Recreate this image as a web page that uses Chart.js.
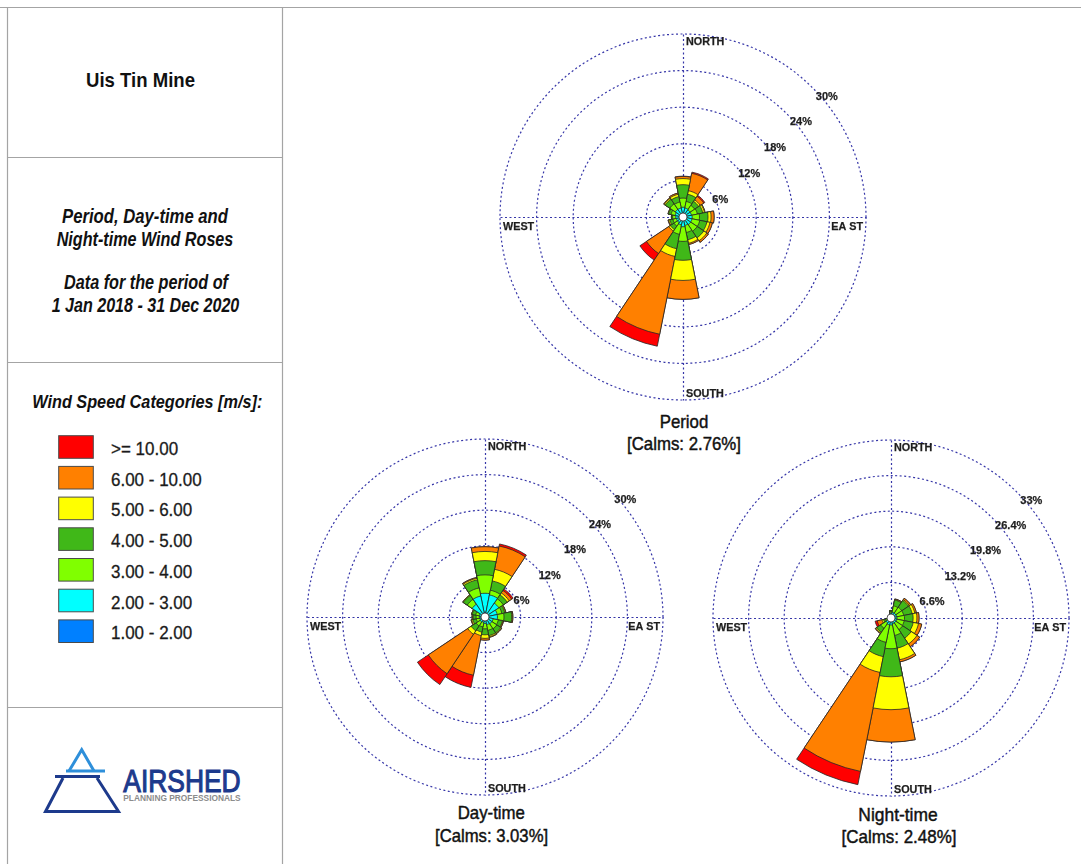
<!DOCTYPE html>
<html>
<head>
<meta charset="utf-8">
<title>Uis Tin Mine – Wind Roses</title>
<script src="https://cdn.jsdelivr.net/npm/chart.js@4.4.1/dist/chart.umd.min.js"></script>
<style>
  body { margin: 0; background: #ffffff; }
  #page { position: relative; width: 1081px; height: 864px; overflow: hidden; background: #ffffff; }
  #frame { position: absolute; left: 0; top: 0; }
  canvas { position: absolute; }
</style>
</head>
<body>
<div id="page">
  <svg id="frame" width="1081" height="864" xmlns="http://www.w3.org/2000/svg"></svg>
  <canvas id="periodRose"></canvas>
  <canvas id="dayRose"></canvas>
  <canvas id="nightRose"></canvas>
</div>
<script>
// ---- directions and wind speed classes (slowest first) ----
const directions = ['N','NNE','NE','ENE','E','ESE','SE','SSE','S','SSW','SW','WSW','W','WNW','NW','NNW'];
const speedClasses = ['1.00 - 2.00','2.00 - 3.00','3.00 - 4.00','4.00 - 5.00','5.00 - 6.00','6.00 - 10.00','>= 10.00'];
const speedColors  = ['#0080ff','#00ffff','#80ff00','#40b818','#ffff00','#ff8000','#ff0000'];

// ---- frequency (%) per direction, one array per speed class ----
// Period
const periodBlue   = [0.4,0.4,0.4,0.4,0.4,0.4,0.4,0.4,0.4,0.3,0.3,0.3,0.4,0.4,0.4,0.4];
const periodCyan   = [1.2,1.1,1.0,1.0,1.1,1.1,1.1,1.0,1.2,1.0,0.8,0.8,0.8,0.9,1.1,1.1];
const periodLime   = [1.5,1.1,0.9,1.0,1.2,1.3,1.3,1.2,2.4,1.6,0.7,0.6,0.5,0.7,1.1,1.0];
const periodGreen  = [2.2,1.2,0.8,0.9,1.4,1.2,1.3,1.2,3.1,2.4,0.7,0.5,0.2,0.4,0.9,0.9];
const periodYellow = [1.0,0.6,0.3,0.3,0.5,0.5,0.6,0.6,3.3,1.3,0.3,0.2,0.0,0.1,0.2,0.4];
const periodOrange = [0.35,2.9,0.7,0.1,0.5,0.4,0.3,0.2,3.1,13.0,4.4,0.1,0.0,0.0,0.1,0.2];
const periodRed    = [0.05,0.2,0.2,0.0,0.0,0.0,0.0,0.0,0.0,2.0,1.3,0.0,0.0,0.0,0.0,0.0];

// Day-time
const dayBlue   = [0.8,0.6,0.5,0.5,0.5,0.4,0.4,0.4,0.3,0.3,0.3,0.3,0.3,0.3,0.5,0.6];
const dayCyan   = [3.2,3.2,2.3,1.6,1.6,1.0,1.0,0.9,0.8,0.6,0.7,0.6,0.6,0.7,2.1,3.0];
const dayLime   = [3.1,0.8,0.9,0.8,1.1,0.9,1.0,1.0,0.9,0.8,0.8,0.6,0.6,0.6,1.0,1.4];
const dayGreen  = [2.4,1.6,0.8,0.5,1.3,0.7,0.8,0.9,1.0,0.9,1.0,0.6,0.5,0.6,0.8,1.4];
const dayYellow = [1.55,2.0,0.4,0.15,0.1,0.1,0.15,0.2,0.6,0.6,0.7,0.2,0.1,0.1,0.1,0.25];
const dayOrange = [0.8,4.0,0.5,0.05,0.1,0.1,0.05,0.1,0.3,6.8,8.0,0.1,0.1,0.0,0.0,0.15];
const dayRed    = [0.0,0.35,0.3,0.0,0.0,0.0,0.0,0.0,0.0,2.1,2.2,0.0,0.0,0.0,0.0,0.0];

// Night-time
const nightBlue   = [0.3,0.3,0.3,0.3,0.3,0.3,0.3,0.3,0.3,0.3,0.3,0.2,0.3,0.25,0.25,0.3];
const nightCyan   = [0.6,0.8,0.8,0.8,0.8,0.8,0.8,0.8,1.0,1.0,0.8,0.4,0.3,0.3,0.3,0.3];
const nightLime   = [0.3,1.2,1.3,1.3,1.4,1.4,1.5,2.2,4.4,3.3,1.2,0.4,0.05,0.05,0.05,0.05];
const nightGreen  = [0.15,1.1,1.5,1.6,1.6,1.7,1.9,2.4,5.2,2.7,0.9,0.4,0.0,0.0,0.0,0.0];
const nightYellow = [0.05,0.1,0.2,0.5,0.7,1.0,1.3,2.2,6.1,3.0,0.2,0.3,0.0,0.0,0.0,0.0];
const nightOrange = [0.0,0.1,0.3,0.3,0.4,0.6,0.6,0.4,6.0,18.7,0.1,0.9,0.0,0.0,0.0,0.0];
const nightRed    = [0.0,0.0,0.0,0.0,0.0,0.0,0.0,0.0,0.0,2.5,0.0,0.4,0.0,0.0,0.0,0.0];

// ---- ring values (%) ----
const periodTicks = [6, 12, 18, 24, 30];
const dayTicks    = [6, 12, 18, 24, 30];
const nightTicks  = [6.6, 13.2, 19.8, 26.4, 33];

// ---- titles ----
const periodTitle = ['Period', '[Calms: 2.76%]'];
const dayTitle    = ['Day-time', '[Calms: 3.03%]'];
const nightTitle  = ['Night-time', '[Calms: 2.48%]'];

const FONT = '"Liberation Sans", Arial, Helvetica, sans-serif';
const GRID = '#3636a8';

// ---------- frame, text panel, legend and logo ----------
const svg = document.getElementById('frame');
const NS = 'http://www.w3.org/2000/svg';
function el(tag, attrs, text, parent) {
  const e = document.createElementNS(NS, tag);
  for (const k in attrs) e.setAttribute(k, attrs[k]);
  if (text !== undefined) e.textContent = text;
  (parent || svg).appendChild(e);
  return e;
}
function line(x1, y1, x2, y2, stroke, w) {
  el('line', { x1, y1, x2, y2, stroke, 'stroke-width': w });
}
function text(str, x, y, size, opts = {}) {
  const a = {
    x, y, 'font-family': FONT, 'font-size': size,
    'text-anchor': opts.anchor || 'middle',
    fill: opts.fill || '#111111',
    'font-weight': opts.weight || 'normal',
    'font-style': opts.style || 'normal'
  };
  if (opts.len) { a.textLength = opts.len; a.lengthAdjust = 'spacingAndGlyphs'; }
  if (opts.thick) { a.stroke = a.fill; a['stroke-width'] = opts.thick; }
  return el('text', a, str);
}

// panel lines
const LC = '#a4a4a4';
line(0, 7.5, 1081, 7.5, LC, 1.2);
line(7.5, 7.5, 7.5, 864, LC, 1.2);
line(282.5, 7.5, 282.5, 864, LC, 1.2);
[157.5, 362.5, 707.5].forEach(y => line(7.5, y, 282.5, y, LC, 1.2));

// panel texts
text('Uis Tin Mine', 140.5, 87.3, 20.5, { weight: 'bold', len: 109 });
text('Period, Day-time and', 145, 223, 19.5, { weight: 'bold', style: 'italic', len: 166 });
text('Night-time Wind Roses', 145, 245.7, 19.5, { weight: 'bold', style: 'italic', len: 176.7 });
text('Data for the period of', 146, 289.3, 19.5, { weight: 'bold', style: 'italic', len: 164 });
text('1 Jan 2018 - 31 Dec 2020', 145.5, 311.7, 19.5, { weight: 'bold', style: 'italic', len: 187.6 });

// legend
text('Wind Speed Categories [m/s]:', 147.3, 408.3, 18.6, { weight: 'bold', style: 'italic', len: 230 });
for (let i = 0; i < speedClasses.length; i++) {
  const k = speedClasses.length - 1 - i;           // fastest class on top
  const top = 435.7 + i * 30.7;
  el('rect', { x: 58.7, y: top, width: 34.6, height: 22.6, fill: speedColors[k], stroke: '#4a4a4a', 'stroke-width': 1 });
  const g = el('g', { transform: `translate(111, ${top + 19.3}) scale(0.944, 1)` });
  el('text', {
    x: 0, y: 0, 'font-family': FONT, 'font-size': 18,
    fill: '#1a1a1a', stroke: '#1a1a1a', 'stroke-width': 0.3
  }, speedClasses[k], g);
}

// logo
const NAVY = '#1d3a8c', SKY = '#2e8fda';
el('polyline', { points: '69,771 81.7,749.8 94,771', fill: 'none', stroke: SKY, 'stroke-width': 3, 'stroke-linejoin': 'miter' });
line(66, 771, 105, 771, SKY, 3);
line(55, 776.5, 100, 776.5, NAVY, 3);
el('polyline', { points: '63,778 45.5,811.5 118.5,811.5 97,778', fill: 'none', stroke: NAVY, 'stroke-width': 3, 'stroke-linejoin': 'miter' });
text('AIRSHED', 123.3, 791.7, 31, { anchor: 'start', fill: NAVY, len: 117.4, thick: 1.1 });
text('PLANNING PROFESSIONALS', 123.3, 801, 9.5, { anchor: 'start', fill: '#8c8c8c', weight: 'bold', len: 117.4 });

// rose titles
text(periodTitle[0], 684, 427.6, 18.6, { len: 48.6, thick: 0.45 });
text(periodTitle[1], 684, 449.5, 18.6, { len: 114, thick: 0.45 });
text(dayTitle[0], 491.3, 819.3, 18.6, { len: 67.3, thick: 0.45 });
text(dayTitle[1], 491.6, 841.7, 18.6, { len: 113, thick: 0.45 });
text(nightTitle[0], 898, 821, 18.6, { len: 79.3, thick: 0.45 });
text(nightTitle[1], 899, 843.3, 18.6, { len: 115, thick: 0.45 });

// ---------- wind roses ----------
// compass cross, ring labels, hub and compass words
const roseDecor = {
  id: 'roseDecor',
  beforeDatasetsDraw(chart) {
    const s = chart.scales.r;
    const ctx = chart.ctx;
    const R = s.getDistanceFromCenterForValue(s.max);
    const x = s.xCenter + 0.5, y = s.yCenter + 0.5;
    ctx.save();
    ctx.strokeStyle = GRID;
    ctx.lineWidth = 1.2;
    ctx.setLineDash([2, 2.5]);
    ctx.beginPath();
    ctx.moveTo(x, y - R); ctx.lineTo(x, y + R);
    ctx.moveTo(x - R, y); ctx.lineTo(x + R, y);
    ctx.stroke();
    ctx.restore();
  },
  afterDatasetsDraw(chart, args, opts) {
    const s = chart.scales.r;
    const ctx = chart.ctx;
    const xc = s.xCenter, yc = s.yCenter;
    const R = s.getDistanceFromCenterForValue(s.max);
    ctx.save();
    // calm hub
    ctx.beginPath();
    ctx.arc(xc, yc, 4, 0, Math.PI * 2);
    ctx.fillStyle = '#ffffff';
    ctx.fill();
    ctx.lineWidth = 0.8;
    ctx.strokeStyle = '#333333';
    ctx.stroke();
    // ring labels on the north-east diagonal
    ctx.fillStyle = '#1e1e1e';
    ctx.strokeStyle = '#1e1e1e';
    ctx.lineWidth = 0.25;
    ctx.font = `bold 11px ${FONT}`;
    ctx.textAlign = 'left';
    ctx.textBaseline = 'alphabetic';
    const d = Math.SQRT1_2;
    opts.ticks.forEach(v => {
      const r = s.getDistanceFromCenterForValue(v);
      const tx = xc + r * d + 3.4, ty = yc - r * d + 12;
      ctx.fillText(v + '%', tx, ty);
      ctx.strokeText(v + '%', tx, ty);
    });
    // compass words
    ctx.font = `bold 10.8px ${FONT}`;
    const word = (w, x, y) => { ctx.fillText(w, x, y); ctx.strokeText(w, x, y); };
    word('NORTH', xc + 3, yc - R + 10.8);
    word('SOUTH', xc + 3, yc + R - 3.5);
    word('WEST', xc - R + 3, yc + 12.6);
    ctx.textAlign = 'right';
    word('EA ST', xc + R - 3, yc + 12.6);
    ctx.restore();
  }
};

function stackUp(classes) {
  const out = [];
  let run = directions.map(() => 0);
  classes.forEach(c => {
    run = run.map((v, i) => +(v + c[i]).toFixed(3));
    out.push(run);
  });
  return out;
}

function makeRose(id, cx, cy, R, classes, ticks) {
  const PAD = 20;
  const canvas = document.getElementById(id);
  const size = 2 * R + 2 * PAD;
  canvas.width = size;
  canvas.height = size;
  canvas.style.left = (cx - R - PAD) + 'px';
  canvas.style.top = (cy - R - PAD) + 'px';

  // cumulative totals: the first (slowest) class is drawn last, on top
  const datasets = stackUp(classes).map((vals, k) => ({
    label: speedClasses[k],
    data: vals,
    backgroundColor: speedColors[k],
    borderColor: '#262626',
    borderWidth: 0.8
  }));

  return new Chart(canvas, {
    type: 'polarArea',
    data: { labels: directions, datasets },
    plugins: [roseDecor],
    options: {
      responsive: false,
      animation: false,
      events: [],
      layout: { padding: PAD },
      plugins: {
        legend: { display: false },
        tooltip: { enabled: false },
        roseDecor: { ticks }
      },
      scales: {
        r: {
          min: 0,
          max: ticks[ticks.length - 1],
          startAngle: -11.25,
          ticks: { display: false, stepSize: ticks[0] },
          afterBuildTicks: s => { s.ticks = [0, ...ticks].map(v => ({ value: v })); },
          grid: { circular: true, color: GRID, lineWidth: 1.2 },
          border: { dash: [2, 2.5] },
          angleLines: { display: false },
          pointLabels: { display: false }
        }
      }
    }
  });
}

makeRose('periodRose', 683, 217, 183,
  [periodBlue, periodCyan, periodLime, periodGreen, periodYellow, periodOrange, periodRed], periodTicks);
makeRose('dayRose', 485, 617, 178,
  [dayBlue, dayCyan, dayLime, dayGreen, dayYellow, dayOrange, dayRed], dayTicks);
makeRose('nightRose', 891, 618, 178,
  [nightBlue, nightCyan, nightLime, nightGreen, nightYellow, nightOrange, nightRed], nightTicks);
</script>
</body>
</html>
